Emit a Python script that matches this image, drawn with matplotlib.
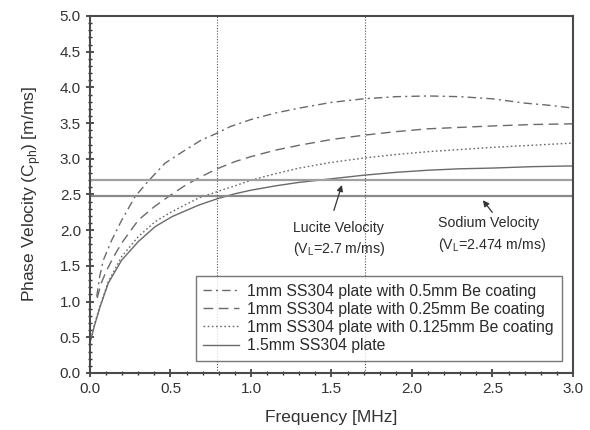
import numpy as np
import matplotlib
matplotlib.use("Agg")
import matplotlib.pyplot as plt
from matplotlib.ticker import MultipleLocator

plt.rcParams['font.family'] = ['Liberation Sans', 'DejaVu Sans']

# Datos
f_05 = [0.042, 0.06, 0.083, 0.135, 0.197, 0.28, 0.363, 0.467, 0.59, 0.69, 0.79, 0.87,
        1.0, 1.15, 1.3, 1.5, 1.7, 1.9, 2.1, 2.3, 2.5, 2.7, 2.85, 3.0]
v_05 = [1.07, 1.35, 1.58, 1.86, 2.14, 2.47, 2.69, 2.94, 3.12, 3.26, 3.36, 3.45,
        3.55, 3.64, 3.71, 3.79, 3.84, 3.87, 3.88, 3.87, 3.84, 3.78, 3.75, 3.71]

f_025 = [0.045, 0.07, 0.104, 0.15, 0.197, 0.3, 0.4, 0.5, 0.6, 0.7, 0.79, 0.9,
         1.0, 1.15, 1.3, 1.5, 1.7, 1.9, 2.1, 2.3, 2.5, 2.75, 3.0]
v_025 = [1.05, 1.26, 1.44, 1.64, 1.82, 2.14, 2.33, 2.49, 2.64, 2.76, 2.86, 2.96,
         3.03, 3.12, 3.19, 3.27, 3.33, 3.38, 3.42, 3.44, 3.46, 3.48, 3.49]

f_0125 = [0.0, 0.03, 0.063, 0.114, 0.197, 0.3, 0.405, 0.51, 0.674, 0.79, 0.9,
          1.0, 1.15, 1.3, 1.5, 1.7, 1.9, 2.1, 2.3, 2.5, 2.75, 3.0]
v_0125 = [0.42, 0.70, 0.94, 1.28, 1.63, 1.91, 2.12, 2.26, 2.45, 2.54, 2.62,
          2.70, 2.79, 2.87, 2.95, 3.01, 3.06, 3.10, 3.13, 3.16, 3.19, 3.22]

f_15 = [0.0, 0.03, 0.063, 0.114, 0.197, 0.3, 0.405, 0.51, 0.674, 0.79, 0.9,
        1.0, 1.15, 1.3, 1.5, 1.7, 1.9, 2.1, 2.3, 2.5, 2.75, 3.0]
v_15 = [0.42, 0.68, 0.93, 1.26, 1.58, 1.84, 2.05, 2.19, 2.35, 2.44, 2.51,
        2.56, 2.62, 2.67, 2.72, 2.77, 2.81, 2.84, 2.86, 2.87, 2.89, 2.90]

etiquetas = ['1mm SS304 plate with 0.5mm Be coating',
             '1mm SS304 plate with 0.25mm Be coating',
             '1mm SS304 plate with 0.125mm Be coating',
             '1.5mm SS304 plate']

v_lucite = 2.7
v_sodio = 2.474
f_verticales = [0.79, 1.71]

gris = '#6a6a6a'
texto = '#2a2a2a'

fig = plt.figure(figsize=(5.9, 4.3), dpi=100)
ax = fig.add_axes([0.1525, 0.1326, 0.8185, 0.8302])

ax.plot(f_05, v_05, color=gris, lw=1.0, linestyle=(0, (6, 3, 1.5, 3)), label=etiquetas[0])
ax.plot(f_025, v_025, color=gris, lw=1.0, linestyle=(0, (7, 4)), label=etiquetas[1])
ax.plot(f_0125, v_0125, color=gris, lw=1.0, linestyle=(0, (1.2, 1.8)), label=etiquetas[2])
ax.plot(f_15, v_15, color=gris, lw=1.0, linestyle='-', label=etiquetas[3])

ax.axhline(v_lucite, color='#a0a0a0', lw=1.6)
ax.axhline(v_sodio, color='#8a8a8a', lw=1.6)
for fv in f_verticales:
    ax.axvline(fv, color='#555555', lw=0.8, linestyle=(0, (1, 1.5)))

# Anotaciones
ax.annotate('', xy=(1.57, 2.67), xytext=(1.51, 2.24),
            arrowprops=dict(arrowstyle='-|>', color='#333333', lw=0.9, mutation_scale=9))
ax.text(1.26, 2.03, 'Lucite Velocity', fontsize=10.2, color=texto, va='center')
ax.text(1.26, 1.74, '(V$_\\mathregular{L}$=2.7 m/ms)', fontsize=10.2, color=texto, va='center')

ax.annotate('', xy=(2.43, 2.45), xytext=(2.51, 2.22),
            arrowprops=dict(arrowstyle='-|>', color='#333333', lw=0.9, mutation_scale=9))
ax.text(2.16, 2.10, 'Sodium Velocity', fontsize=10.2, color=texto, va='center')
ax.text(2.16, 1.79, '(V$_\\mathregular{L}$=2.474 m/ms)', fontsize=10.2, color=texto, va='center')

ax.set_xlim(0, 3.0)
ax.set_ylim(0, 5.0)
ax.xaxis.set_major_locator(MultipleLocator(0.5))
ax.xaxis.set_minor_locator(MultipleLocator(0.1))
ax.yaxis.set_major_locator(MultipleLocator(0.5))
ax.yaxis.set_minor_locator(MultipleLocator(0.1))
ax.tick_params(which='major', direction='inout', length=6, width=1.2, colors='#333333',
               labelsize=11, labelcolor='#333333')
ax.tick_params(which='minor', direction='inout', length=3, width=1.0, colors='#333333')
ax.tick_params(top=False, right=False, which='both')
for s in ax.spines.values():
    s.set_color('#4a4a4a')
    s.set_linewidth(1.5)

ax.set_xlabel('Frequency [MHz]', fontsize=12.5, color='#333333', labelpad=10)
ax.set_ylabel('Phase Velocity (C$_\\mathregular{ph}$) [m/ms]', fontsize=12.5,
              color='#333333', labelpad=12)

leg = ax.legend(loc='lower right', bbox_to_anchor=(0.977, 0.034), borderaxespad=0,
                fontsize=11.3, frameon=True, fancybox=False, edgecolor='#555555',
                handlelength=2.3, handletextpad=0.5, labelspacing=0.2, borderpad=0.5)
leg.get_frame().set_linewidth(1.0)
for t in leg.get_texts():
    t.set_color(texto)

fig.savefig('out.png', dpi=100)
